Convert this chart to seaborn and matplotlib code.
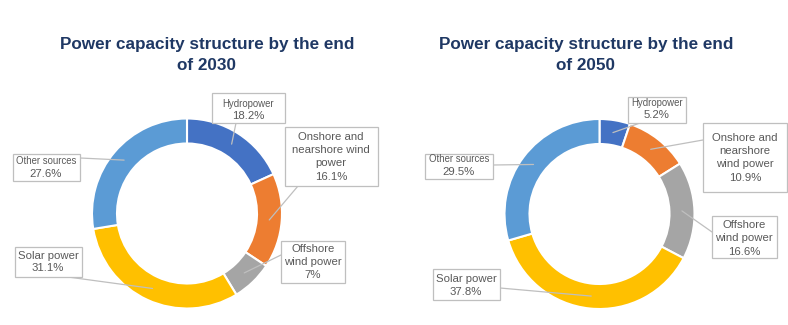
import numpy as np
import matplotlib
matplotlib.use("Agg")
import matplotlib.pyplot as plt
from matplotlib.patches import Rectangle
import seaborn as sns

# ---- data -------------------------------------------------------------
sources = ["Hydropower", "Onshore and nearshore wind power",
           "Offshore wind power", "Solar power", "Other sources"]
share_2030 = [18.2, 16.1, 7, 31.1, 27.6]
share_2050 = [5.2, 10.9, 16.6, 37.8, 29.5]
names_2030 = ["Hydropower", "Onshore and\nnearshore wind\npower",
              "Offshore\nwind power", "Solar power", "Other sources"]
names_2050 = ["Hydropower", "Onshore and\nnearshore\nwind power",
              "Offshore\nwind power", "Solar power", "Other sources"]
titles = ["Power capacity structure by the end\nof 2030",
          "Power capacity structure by the end\nof 2050"]

colors = ["#4472C4", "#ED7D31", "#A5A5A5", "#FFC000", "#5B9BD5"]

sns.set_theme(style="white")
plt.rcParams["font.family"] = ["Liberation Sans", "DejaVu Sans"]

W, H = 788, 325
fig = plt.figure(figsize=(W / 100, H / 100), dpi=100)
ax = fig.add_axes([0, 0, 1, 1])


def fy(y):
    return H - y


TEXT = "#595959"
GRID = "#BFBFBF"
NAVY = "#1F3864"

# per-chart layout: centre, title centre, label boxes
layouts = [
    dict(center=(187, 213.5), title=(207, 55),
         labels=[
             dict(box=(212, 93, 285, 123), x=248, ys=[104], py=116, small=True, start=(236, 123)),
             dict(box=(285, 127, 378, 186), x=331, ys=[137, 150, 163], py=177, small=False, start=(298, 186)),
             dict(box=(281, 241, 345, 283), x=313, ys=[249, 262], py=275, small=False, start=(281, 255)),
             dict(box=(15, 247, 82, 277), x=48, ys=[256], py=268, small=False, start=(68, 277)),
             dict(box=(13, 154, 80, 181), x=46, ys=[161], py=174, small=True, start=(80, 158)),
         ]),
    dict(center=(599.5, 214), title=(586, 55),
         labels=[
             dict(box=(628, 97, 686, 123), x=657, ys=[103], py=115, small=True, start=(640, 123)),
             dict(box=(703, 123, 787, 192), x=745, ys=[138, 151, 164], py=178, small=False, start=(703, 140)),
             dict(box=(712, 216, 777, 258), x=744, ys=[225, 238], py=252, small=False, start=(712, 232)),
             dict(box=(433, 269, 500, 300), x=466, ys=[279], py=292, small=False, start=(500, 288)),
             dict(box=(425, 154, 493, 179), x=459, ys=[159], py=172, small=True, start=(493, 165)),
         ]),
]

R_OUT, RING = 95, 25

for values, names, title, lay in zip([share_2030, share_2050],
                                      [names_2030, names_2050], titles, layouts):
    cx, cy = lay["center"]
    ax.pie(values, colors=colors, startangle=90, counterclock=False,
           radius=R_OUT, center=(cx, fy(cy)), frame=True,
           wedgeprops=dict(width=RING, edgecolor="white", linewidth=1.5))

    tx, ty = lay["title"]
    ax.text(tx, fy(ty), title, ha="center", va="center", fontsize=12.3,
            fontweight="bold", color=NAVY, linespacing=1.45)

    # wedge mid-angles (compass degrees, clockwise from the top)
    total = float(np.sum(values))
    cum = np.cumsum([0] + list(values))[:-1]
    mids = (cum + np.asarray(values) / 2) / total * 360.0
    r_mid = R_OUT - RING / 2

    for v, name, mid, lab in zip(values, names, mids, lay["labels"]):
        ex = cx + r_mid * np.sin(np.radians(mid))
        ey = cy - r_mid * np.cos(np.radians(mid))
        sx, sy = lab["start"]
        ax.plot([sx, ex], [fy(sy), fy(ey)], color=GRID, lw=0.9, zorder=3)

        x0, y0, x1, y1 = lab["box"]
        ax.add_patch(Rectangle((x0, fy(y1)), x1 - x0, y1 - y0,
                               facecolor="white", edgecolor=GRID, lw=0.9, zorder=4))
        name_size = 6.9 if lab["small"] else 8.2
        for line, ly in zip(name.split("\n"), lab["ys"]):
            ax.text(lab["x"], fy(ly), line, ha="center", va="center",
                    fontsize=name_size, color=TEXT, zorder=5)
        ax.text(lab["x"], fy(lab["py"]), f"{v:g}%", ha="center", va="center",
                fontsize=8.2, color=TEXT, zorder=5)

ax.set_xlim(0, W)
ax.set_ylim(0, H)
ax.set_aspect("equal")
ax.axis("off")

fig.savefig("out.png", dpi=100, facecolor="white")
